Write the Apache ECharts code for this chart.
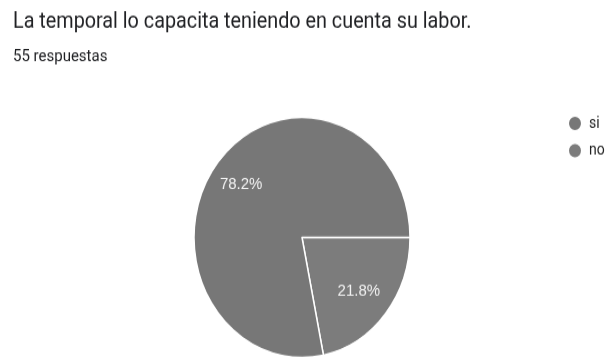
<!DOCTYPE html>
<html>
<head>
<meta charset="utf-8">
<script src="https://cdn.jsdelivr.net/npm/echarts@6/dist/echarts.min.js"></script>
<style>
html,body{margin:0;padding:0;background:#fff;overflow:hidden;}
#wrap{width:606px;height:358px;overflow:hidden;position:relative;}
#chart{width:606px;height:322px;transform:scaleY(1.1118);transform-origin:0 0;}
</style>
</head>
<body>
<div id="wrap"><div id="chart"></div></div>
<script>
const titleText = 'La temporal lo capacita teniendo en cuenta su labor.';
const subtitleText = '55 respuestas';
const categories = ['no', 'si'];
const counts = [12, 43];
const legendOrder = ['si', 'no'];
const sliceColors = {si: '#777777', no: '#7c7c7c'};

const chart = echarts.init(document.getElementById('chart'), null, {renderer: 'canvas'});
const pieData = categories.map((c, i) => ({name: c, value: counts[i], itemStyle: {color: sliceColors[c]}}));
const labelData = categories.map((c, i) => ({name: c, value: counts[i]}));

chart.setOption({
  animation: false,
  title: [
    {text: titleText, left: 8, top: 5, textStyle: {fontFamily: 'Roboto', fontSize: 19.8, fontWeight: 'normal', color: '#202124'}},
    {text: subtitleText, left: 8, top: 39, textStyle: {fontFamily: 'Roboto', fontSize: 15, fontWeight: 'normal', color: '#202124'}}
  ],
  legend: {
    orient: 'vertical',
    left: 567, top: 103,
    padding: 0,
    itemWidth: 14, itemHeight: 14, itemGap: 8.5,
    icon: 'circle',
    data: legendOrder.map(n => ({name: n, itemStyle: {color: sliceColors[n]}})),
    textStyle: {fontFamily: 'Roboto', fontSize: 14, color: '#222222', padding: [0, 0, 0, 2]}
  },
  series: [
    {
      type: 'pie',
      center: [302, 213.6],
      radius: [0, 108],
      startAngle: 0,
      clockwise: true,
      percentPrecision: 1,
      label: {show: false},
      labelLine: {show: false},
      itemStyle: {borderColor: '#ffffff', borderWidth: 1.5},
      emphasis: {disabled: true},
      data: pieData
    },
    {
      type: 'pie',
      center: [300, 213.6],
      radius: [0, 146],
      startAngle: 0,
      clockwise: true,
      percentPrecision: 1,
      silent: true,
      legendHoverLink: false,
      itemStyle: {color: 'rgba(0,0,0,0)', borderWidth: 0},
      label: {show: true, position: 'inside', formatter: '{d}%', fontFamily: 'Liberation Sans', fontSize: 15, color: '#f2f2f2'},
      labelLine: {show: false},
      emphasis: {disabled: true},
      data: labelData
    }
  ]
});
</script>
</body>
</html>
